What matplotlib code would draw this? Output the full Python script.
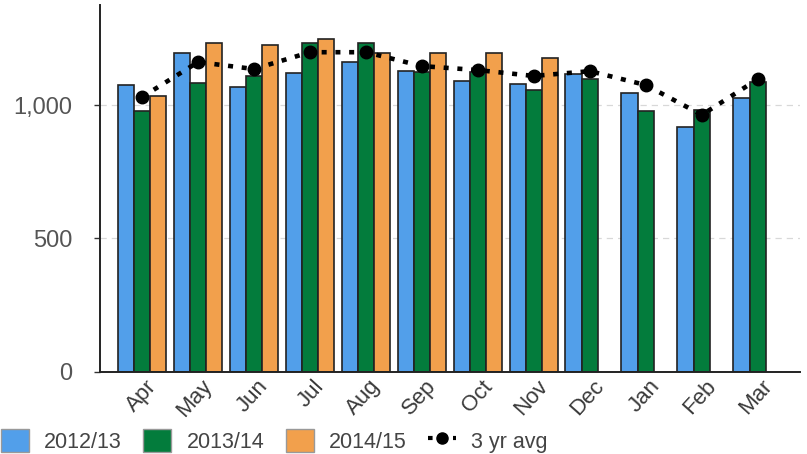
import matplotlib.pyplot as plt
import matplotlib.transforms as mtrans
import numpy as np
from matplotlib.patches import Patch
from matplotlib.lines import Line2D

plt.rcParams['font.family'] = ['Liberation Sans', 'DejaVu Sans']

months = ['Apr', 'May', 'Jun', 'Jul', 'Aug', 'Sep', 'Oct', 'Nov', 'Dec', 'Jan', 'Feb', 'Mar']
y1213 = [1075, 1195, 1067, 1120, 1161, 1127, 1090, 1079, 1116, 1045, 918, 1026]
y1314 = [977, 1082, 1109, 1232, 1232, 1124, 1124, 1056, 1097, 977, 981, 1086]
y1415 = [1034, 1232, 1225, 1247, 1195, 1195, 1195, 1176, np.nan, np.nan, np.nan, np.nan]
avg3 = [1030, 1161, 1135, 1198, 1198, 1146, 1131, 1109, 1127, 1075, 963, 1097]

c_blue = '#529fea'
c_green = '#037c3c'
c_orange = '#f2a04c'

fig = plt.figure(figsize=(8.07, 4.54), dpi=100)
ax = fig.add_axes([0.124, 0.181, 0.867, 0.808])

x = np.arange(len(months))
w = 0.29
ax.bar(x - w, y1213, w, color=c_blue, edgecolor='#222222', linewidth=1.2, zorder=2)
ax.bar(x, y1314, w, color=c_green, edgecolor='#222222', linewidth=1.2, zorder=2)
ax.bar(x + w, y1415, w, color=c_orange, edgecolor='#222222', linewidth=1.2, zorder=2)
ax.plot(x, avg3, color='black', linestyle=(0, (1.1, 1.9)), linewidth=3.3,
        marker='o', markersize=9, zorder=3)

ax.set_xlim(-0.75, 11.75)
ax.set_ylim(0, 1375)
ax.set_yticks([0, 500, 1000])
ax.set_yticklabels(['0', '500', '1,000'])
ax.yaxis.grid(True, color='#d8d8d8', linestyle=(0, (5, 4)), linewidth=0.9, zorder=0)
ax.set_axisbelow(True)

ax.set_xticks(x)
ax.set_xticklabels(months, rotation=48, ha='right', rotation_mode='anchor')
ax.tick_params(axis='x', length=0, labelsize=16, labelcolor='#3a3a3a', pad=3)
ax.tick_params(axis='y', length=4, width=1, color='#333333', labelsize=17,
               labelcolor='#555555', pad=16)
shift = mtrans.ScaledTranslation(3 / 100, 0, fig.dpi_scale_trans)
for lab in ax.get_xticklabels():
    lab.set_transform(lab.get_transform() + shift)

ax.spines['top'].set_visible(False)
ax.spines['right'].set_visible(False)
ax.spines['left'].set_color('#222222')
ax.spines['bottom'].set_color('#222222')
ax.spines['left'].set_linewidth(1.4)
ax.spines['bottom'].set_linewidth(1.4)

handles = [
    Patch(facecolor=c_blue, edgecolor='#999999', label='2012/13'),
    Patch(facecolor=c_green, edgecolor='#999999', label='2013/14'),
    Patch(facecolor=c_orange, edgecolor='#999999', label='2014/15'),
    Line2D([0], [0], color='black', linestyle=(0, (1.1, 1.9)), linewidth=3,
           marker='o', markersize=8, label='3 yr avg'),
]
fig.legend(handles=handles, loc='lower left', bbox_to_anchor=(0.0, 0.0),
           borderaxespad=0.0, borderpad=0.05,
           ncol=4, frameon=False, fontsize=15.5, handlelength=1.3, handleheight=1.3,
           handletextpad=0.7, columnspacing=1.0, labelcolor='#444444')

fig.savefig('out.png', dpi=100)
